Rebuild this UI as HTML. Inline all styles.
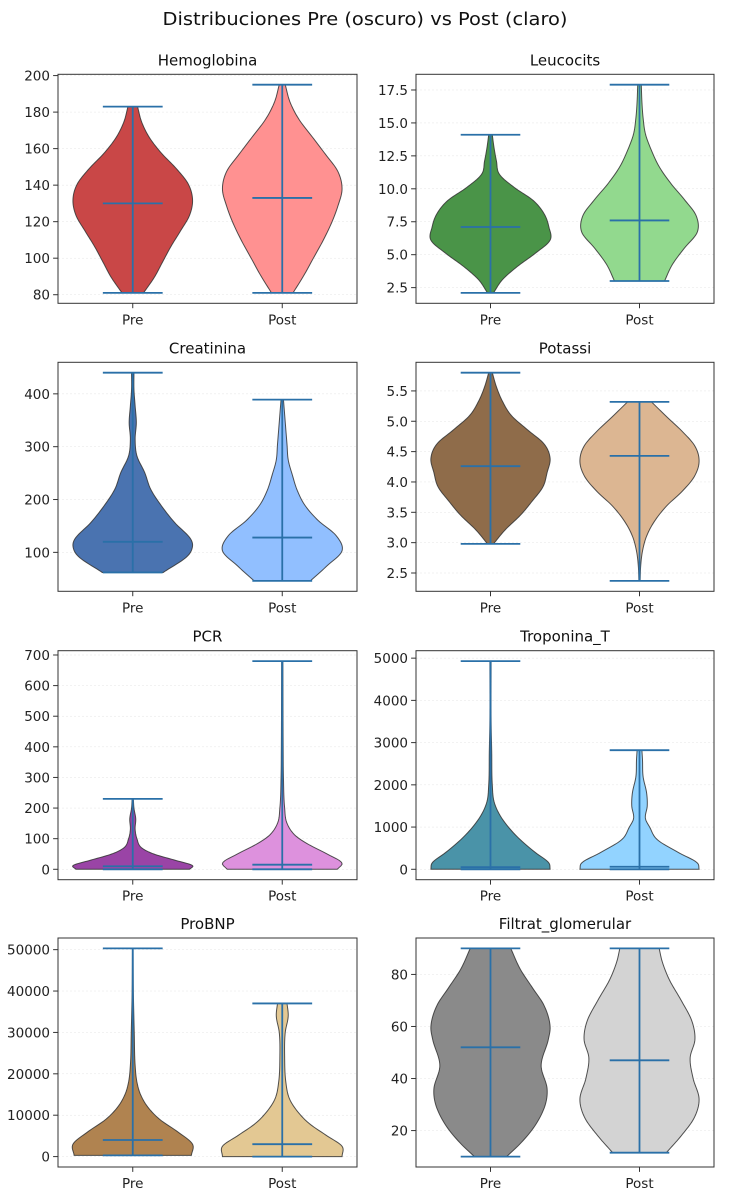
<!DOCTYPE html>
<html><head><meta charset="utf-8"><style>
html,body{margin:0;padding:0;background:#fff;}
svg{display:block;font-family:"DejaVu Sans","Liberation Sans",sans-serif;}
</style></head><body>
<svg id="fig" width="750" height="1200" viewBox="0 0 750 1200">
<text x="365" y="25" text-anchor="middle" font-size="18" fill="#111" textLength="405" lengthAdjust="spacingAndGlyphs">Distribuciones Pre (oscuro) vs Post (claro)</text>
</svg>
<script>
const panelTitles = ["Hemoglobina","Leucocits","Creatinina","Potassi","PCR","Troponina_T","ProBNP","Filtrat_glomerular"];
const groupLabels = ["Pre","Post"];
const preProfiles = [
 [[81,.18],[89.5,.36],[98,.5],[106.5,.64],[115,.8],[123.5,.95],[132,1],[140.5,.93],[149,.73],[157.5,.48],[166,.28],[174.5,.15],[183,.08]],
 [[2.1,.05],[3.1,.2],[4.1,.45],[5.1,.75],[6.1,1],[7.1,.98],[8.1,.9],[9.1,.72],[10.1,.4],[11.1,.15],[12.1,.1],[13.1,.06],[14.1,.03]],
 [[62,.51],[93.5,.92],[112,1],[125,.97],[156.5,.7],[188,.48],[219.5,.3],[251,.2],[282.5,.07],[314,.04],[345.5,.06],[377,.04],[408.5,.02],[440,.02]],
 [[2.98,.05],[3.215,.25],[3.45,.5],[3.685,.7],[3.92,.88],[4.155,.95],[4.39,1],[4.625,.9],[4.86,.62],[5.095,.35],[5.33,.2],[5.565,.1],[5.8,.03]],
 [[0,.95],[12,1],[30,.7],[50,.35],[70,.15],[100,.07],[130,.04],[165,.05],[200,.02],[230,.01]],
 [[0,1],[150,.98],[400,.75],[700,.5],[1000,.3],[1300,.15],[1600,.06],[2000,.03],[2800,.02],[3500,.01],[4930,.01]],
 [[300,.98],[3000,1],[6000,.75],[9000,.45],[12000,.25],[15000,.13],[18000,.07],[22000,.04],[30000,.025],[40000,.01],[50300,.005]],
 [[10,.27],[15,.5],[22,.75],[30,.92],[36,.95],[45,.85],[55,.97],[60,1],[68,.9],[75,.7],[82,.5],[90,.34]]
];
const postProfiles = [
 [[81,.18],[90.5,.36],[100,.52],[109.5,.68],[119,.82],[128.5,.93],[138,1],[147.5,.93],[157,.72],[166.5,.5],[176,.28],[185.5,.13],[195,.05]],
 [[3.0,.42],[4.24,.55],[5.48,.75],[6.72,.97],[7.96,.95],[9.2,.75],[10.44,.52],[11.68,.33],[12.92,.2],[14.16,.1],[15.4,.06],[16.64,.04],[17.9,.03]],
 [[46,.47],[74.6,.75],[103,1],[131.8,.9],[160.4,.6],[189,.38],[217.6,.25],[246,.17],[275,.1],[303.6,.08],[332,.06],[360.8,.04],[389,.02]],
 [[2.37,.01],[2.616,.02],[2.86,.05],[3.11,.12],[3.35,.25],[3.6,.45],[3.85,.72],[4.09,.92],[4.34,1],[4.59,.93],[4.83,.72],[5.08,.45],[5.32,.2]],
 [[0,.92],[20,1],[50,.75],[80,.45],[110,.22],[150,.08],[200,.04],[300,.02],[400,.015],[680,.01]],
 [[0,1],[150,.97],[400,.65],[700,.3],[1000,.17],[1200,.1],[1500,.13],[1800,.12],[2200,.06],[2600,.05],[2820,.04]],
 [[0,1],[2500,1],[5000,.75],[8000,.45],[11000,.25],[14000,.12],[18000,.06],[24000,.04],[30000,.05],[34000,.1],[37000,.08]],
 [[11.5,.45],[18,.7],[25,.92],[32,1],[40,.9],[48,.85],[55,.93],[62,.88],[70,.7],[78,.5],[85,.38],[90,.33]]
];
const preMedians = [130,7.1,120,4.26,10,50,4000,52];
const postMedians = [133,7.6,128,4.43,15,60,3000,47];
const yTickLabels = [
 ["80","100","120","140","160","180","200"],
 ["2.5","5.0","7.5","10.0","12.5","15.0","17.5"],
 ["100","200","300","400"],
 ["2.5","3.0","3.5","4.0","4.5","5.0","5.5"],
 ["0","100","200","300","400","500","600","700"],
 ["0","1000","2000","3000","4000","5000"],
 ["0","10000","20000","30000","40000","50000"],
 ["20","40","60","80"]
];
const preColors = ["#c94747","#4a9448","#4a73b0","#8f6c4a","#9a44a6","#4a93a8","#b08350","#8a8a8a"];
const postColors = ["#ff9191","#92d98e","#91bfff","#dcb692","#dd91dd","#92d3ff","#e3c893","#d3d3d3"];

const NS="http://www.w3.org/2000/svg";
const fig=document.getElementById('fig');
const colX0=[58,416], colX1=[357,714];
const rowY0=[74.3,362.3,650.7,938], PH=229;
function mk(tag,attrs,parent){const e=document.createElementNS(NS,tag);for(const k in attrs)e.setAttribute(k,attrs[k]);(parent||fig).appendChild(e);return e;}
function densAt(prof,v){
  const n=prof.length;
  if(v<=prof[0][0])return prof[0][1];
  if(v>=prof[n-1][0])return prof[n-1][1];
  let i=0;while(i<n-2&&v>prof[i+1][0])i++;
  const x0=prof[i][0],x1=prof[i+1][0],y0=prof[i][1],y1=prof[i+1][1],h=x1-x0;
  const slope=(a,b)=>(prof[b][1]-prof[a][1])/(prof[b][0]-prof[a][0]);
  const m0=i>0?(slope(i-1,i)+slope(i,i+1))/2:slope(i,i+1);
  const m1=i+2<n?(slope(i,i+1)+slope(i+1,i+2))/2:slope(i,i+1);
  const t=(v-x0)/h,t2=t*t,t3=t2*t;
  const r=(2*t3-3*t2+1)*y0+(t3-2*t2+t)*h*m0+(-2*t3+3*t2)*y1+(t3-t2)*h*m1;
  return Math.max(r,0.004);
}
for(let p=0;p<8;p++){
  const col=p%2,row=Math.floor(p/2);
  const x0=colX0[col],x1=colX1[col],w=x1-x0,y0=rowY0[row],y1=y0+PH;
  const g=mk('g',{});
  
  
  const pre=preProfiles[p],post=postProfiles[p];
  const lo=Math.min(pre[0][0],post[0][0]),hi=Math.max(pre[pre.length-1][0],post[post.length-1][0]);
  const pad=(hi-lo)*0.05,ylo=lo-pad,yhi=hi+pad;
  const Y=v=>y1-(v-ylo)/(yhi-ylo)*PH;
  const X=pos=>x0+(pos-0.5)/2*w;
  yTickLabels[p].forEach(lbl=>{
    const v=parseFloat(lbl),yy=Y(v);
    const gl=mk('line',{x1:x0,x2:x1,y1:yy,y2:yy,stroke:'#e4e4e4','stroke-width':0.5,'stroke-dasharray':'2,2'},g);
    
    
    const tk=mk('line',{x1:x0-4.9,x2:x0,y1:yy,y2:yy,stroke:'#333','stroke-width':1},g);
    
    
    const tl=mk('text',{x:x0-8,y:yy+5,'text-anchor':'end','font-size':13.5,fill:'#222'},g);
    tl.textContent=lbl;
    
    
  });
  const hm=0.2*w;
  [[pre,preColors[p],preMedians[p],1],[post,postColors[p],postMedians[p],2]].forEach(([prof,colr,med,pos],k)=>{
    const xc=X(pos),vmin=prof[0][0],vmax=prof[prof.length-1][0];
    const N=120,right=[],left=[];
    for(let i=0;i<=N;i++){const v=vmin+(vmax-vmin)*i/N;const d=densAt(prof,v)*hm;right.push([xc+d,Y(v)]);left.push([xc-d,Y(v)]);}
    const pts=right.concat(left.reverse());
    const body=mk('path',{d:'M'+pts.map(q=>q[0].toFixed(2)+','+q[1].toFixed(2)).join('L')+'Z',fill:colr,stroke:'#333','stroke-opacity':0.85,'stroke-width':1},g);
    
    
    const cap=0.1*w,lc='#2a70a8';
    const vl=mk('line',{x1:xc,x2:xc,y1:Y(vmin),y2:Y(vmax),stroke:lc,'stroke-width':1.8},g);
    
    
    [[vmin,'min-cap'],[vmax,'max-cap'],[med,'median-line']].forEach(([v,nm])=>{
      const l=mk('line',{x1:xc-cap,x2:xc+cap,y1:Y(v),y2:Y(v),stroke:lc,'stroke-width':1.8},g);
      
      
    });
    const xt=mk('line',{x1:xc,x2:xc,y1:y1,y2:y1+4.9,stroke:'#333','stroke-width':1},g);
    
    
    const xl=mk('text',{x:xc,y:y1+21,'text-anchor':'middle','font-size':13.5,fill:'#222'},g);
    xl.textContent=groupLabels[k];
    
    
  });
  const fr=mk('rect',{x:x0,y:y0,width:w,height:PH,fill:'none',stroke:'#333','stroke-width':1},g);
  
  
  const tt=mk('text',{x:(x0+x1)/2,y:y0-9,'text-anchor':'middle','font-size':15,fill:'#111'},g);
  tt.textContent=panelTitles[p];
  
  
}
</script>
</body></html>
